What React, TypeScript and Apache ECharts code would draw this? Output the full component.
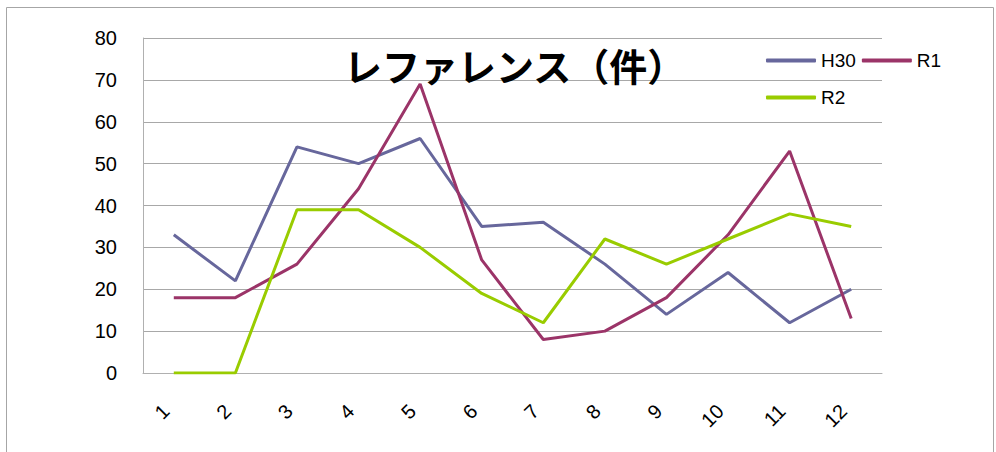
import React, { useEffect, useRef } from "react";
import * as echarts from "echarts";

const categories = ["1", "2", "3", "4", "5", "6", "7", "8", "9", "10", "11", "12"];
const h30 = [33, 22, 54, 50, 56, 35, 36, 26, 14, 24, 12, 20];
const r1 = [18, 18, 26, 44, 69, 27, 8, 10, 18, 33, 53, 13];
const r2 = [0, 0, 39, 39, 30, 19, 12, 32, 26, 32, 38, 35];
const yTicks = { min: 0, max: 80, interval: 10 };

const FONT = "'Liberation Sans', Arial, sans-serif";

export default function App() {
  const ref = useRef<HTMLDivElement>(null);
  useEffect(() => {
    if (!ref.current) return;
    const chart = echarts.init(ref.current, undefined, { renderer: "svg" });
    const legendCommon = {
      orient: "horizontal" as const,
      itemWidth: 50,
      itemHeight: 4,
      itemGap: 6,
      icon: "roundRect",
      textStyle: { fontSize: 19, fontFamily: FONT, color: "#000" },
      padding: 0,
    };
    chart.setOption({
      animation: false,
      backgroundColor: "#fff",
      title: {
        text: "レファレンス（件）",
        left: 344,
        top: 45,
        padding: 0,
        textStyle: {
          fontSize: 38,
          fontWeight: "bold",
          fontFamily: "'Noto Sans CJK JP', sans-serif",
          color: "#000",
        },
      },
      graphic: [
        {
          type: "rect",
          shape: { x: 6.5, y: 7.5, width: 987, height: 460 },
          style: { fill: "none", stroke: "#a6a6a6", lineWidth: 1 },
          silent: true,
        },
      ],
      legend: [
        { ...legendCommon, data: ["H30", "R1"], left: 766, top: 51 },
        { ...legendCommon, data: ["R2"], left: 766, top: 88 },
      ],
      grid: { left: 143, right: 114, top: 38, bottom: 79, containLabel: false },
      xAxis: {
        type: "category",
        data: categories,
        boundaryGap: true,
        axisLine: { show: true, lineStyle: { color: "#b0b0b0", width: 1 } },
        axisTick: { show: false },
        axisLabel: {
          rotate: 45,
          margin: 27,
          padding: [0, 11, 0, 0],
          fontSize: 20,
          fontFamily: FONT,
          color: "#000",
        },
      },
      yAxis: {
        type: "value",
        min: yTicks.min,
        max: yTicks.max,
        interval: yTicks.interval,
        axisLine: { show: true, lineStyle: { color: "#b0b0b0", width: 1 } },
        axisTick: { show: false },
        splitLine: { show: true, lineStyle: { color: "#a8a8a8", width: 1 } },
        axisLabel: {
          margin: 26,
          fontSize: 20,
          fontFamily: FONT,
          color: "#000",
        },
      },
      series: [
        {
          name: "H30",
          type: "line",
          data: h30,
          symbol: "none",
          lineStyle: { color: "#67679c", width: 3 },
          itemStyle: { color: "#67679c" },
        },
        {
          name: "R1",
          type: "line",
          data: r1,
          symbol: "none",
          lineStyle: { color: "#9b3468", width: 3 },
          itemStyle: { color: "#9b3468" },
        },
        {
          name: "R2",
          type: "line",
          data: r2,
          symbol: "none",
          lineStyle: { color: "#99cc00", width: 3 },
          itemStyle: { color: "#99cc00" },
        },
      ],
    });
    return () => chart.dispose();
  }, []);
  return (
    <div
      ref={ref}
      style={{ position: "fixed", left: 0, top: 0, width: 996, height: 452 }}
    />
  );
}
